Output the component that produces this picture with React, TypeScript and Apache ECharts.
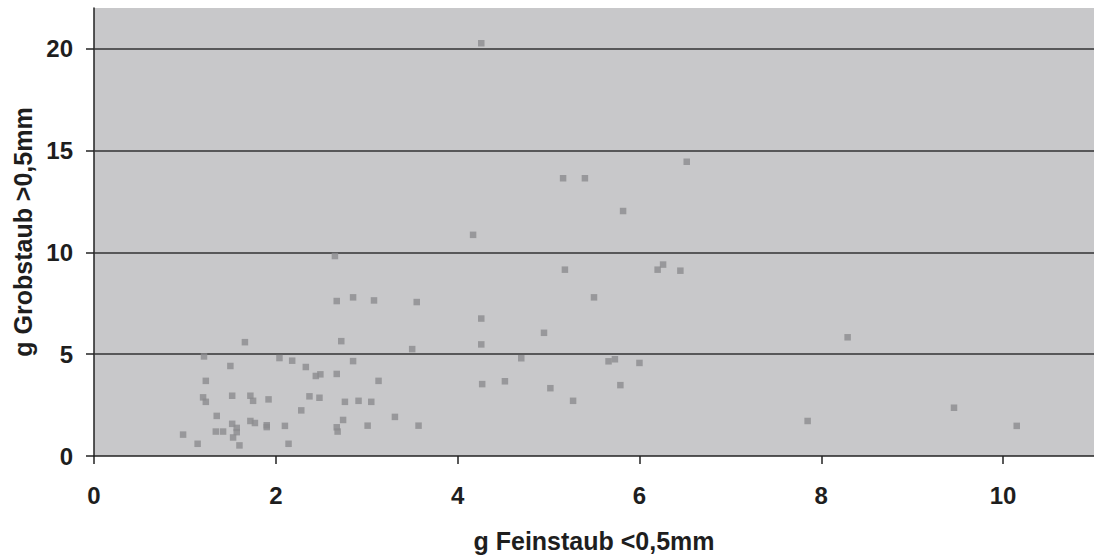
import React, { useEffect, useRef } from "react";
import * as echarts from "echarts";

// Fine dust (x) vs. coarse dust (y), grams per sample
const feinstaub: number[] = [
  1.66, 1.21, 1.5, 2.04, 2.18, 2.33, 1.23, 1.2, 1.23, 1.52, 1.72, 1.75, 1.92, 2.37, 2.28, 1.35,
  1.52, 1.72, 1.77, 1.57, 1.57, 1.34, 1.42, 1.9, 1.9, 2.1, 0.98, 1.14, 1.53, 1.6, 2.14,
  2.65, 2.67, 2.85, 3.08, 3.55, 2.72, 3.5, 2.85, 2.44, 2.49, 2.67, 3.13, 2.48, 2.76, 2.91,
  3.05, 2.74, 3.31, 3.57, 3.01, 2.67, 2.68,
  4.26, 6.52, 5.16, 5.4, 5.82, 4.17, 5.18, 6.2, 6.26, 6.45, 5.5, 4.26, 4.95, 4.26, 4.7,
  5.66, 5.73, 6.0, 4.27, 4.52, 5.02, 5.79, 5.27,
  8.29, 7.85, 9.46, 10.15,
];
const grobstaub: number[] = [
  5.59, 4.89, 4.42, 4.81, 4.68, 4.37, 3.69, 2.88, 2.66, 2.96, 2.96, 2.71, 2.78, 2.93, 2.24, 1.97,
  1.58, 1.72, 1.62, 1.38, 1.17, 1.2, 1.2, 1.51, 1.42, 1.48, 1.05, 0.6, 0.91, 0.52, 0.6,
  9.82, 7.61, 7.79, 7.64, 7.56, 5.64, 5.25, 4.66, 3.93, 4.01, 4.03, 3.69, 2.86, 2.66, 2.71,
  2.66, 1.77, 1.92, 1.49, 1.49, 1.41, 1.2,
  20.27, 14.45, 13.64, 13.64, 12.03, 10.86, 9.15, 9.15, 9.4, 9.1, 7.79, 6.75, 6.05, 5.48, 4.8,
  4.65, 4.75, 4.57, 3.53, 3.67, 3.33, 3.48, 2.71,
  5.83, 1.72, 2.37, 1.48,
];

const xTicks = { min: 0, max: 11, interval: 2 };
const yTicks = { min: 0, max: 22, interval: 5 };
const yGridValues: number[] = [5, 10, 15, 20];

const labelFont = {
  fontFamily: "Liberation Sans, Arial, sans-serif",
  fontWeight: "bold" as const,
  fontSize: 24,
  color: "#1e1e1e",
};
const titleFont = { ...labelFont, fontSize: 25 };

export default function App() {
  const ref = useRef<HTMLDivElement>(null);

  useEffect(() => {
    if (!ref.current) return;
    const chart = echarts.init(ref.current, null, { renderer: "svg" });
    const points = feinstaub.map((x, i) => [x, grobstaub[i]]);
    chart.setOption({
      animation: false,
      backgroundColor: "#ffffff",
      grid: {
        left: 94,
        top: 8,
        width: 1005,
        height: 451,
        show: true,
        backgroundColor: "#c8c8ca",
        borderWidth: 0,
      },
      xAxis: {
        type: "value",
        min: xTicks.min,
        max: xTicks.max,
        interval: xTicks.interval,
        name: "g Feinstaub <0,5mm",
        nameLocation: "middle",
        nameGap: 72,
        nameTextStyle: titleFont,
        axisLine: { show: true, onZero: false, lineStyle: { color: "#222", width: 1.5 } },
        axisTick: { show: true, inside: false, length: 8, lineStyle: { color: "#222", width: 1.5 } },
        axisLabel: { ...labelFont, margin: 27, showMaxLabel: false },
        splitLine: { show: false },
      },
      yAxis: {
        type: "value",
        min: yTicks.min,
        max: yTicks.max,
        interval: yTicks.interval,
        name: "g Grobstaub >0,5mm",
        nameLocation: "middle",
        nameGap: 59,
        nameRotate: 90,
        nameTextStyle: titleFont,
        axisLine: { show: true, onZero: false, lineStyle: { color: "#222", width: 1.5 } },
        axisTick: { show: true, inside: false, length: 8, lineStyle: { color: "#222", width: 1.5 } },
        axisLabel: { ...labelFont, margin: 21, showMaxLabel: false },
        splitLine: { show: false },
      },
      series: [
        {
          type: "scatter",
          data: points,
          symbol: "rect",
          symbolSize: 6.5,
          itemStyle: { color: "#8c8c8e" },
          markLine: {
            silent: true,
            symbol: "none",
            label: { show: false },
            lineStyle: { color: "#333333", width: 1.5, type: "solid" },
            data: yGridValues.map((v) => ({ yAxis: v })),
            z: 1,
          },
          z: 3,
        },
      ],
    });
    return () => chart.dispose();
  }, []);

  return (
    <div
      ref={ref}
      style={{ position: "fixed", left: 0, top: 0, width: 1094, height: 558 }}
    />
  );
}
